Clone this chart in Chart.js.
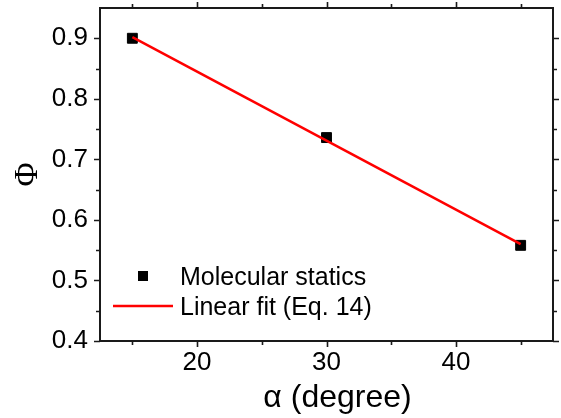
<!DOCTYPE html>
<html>
<head>
<meta charset="utf-8">
<script src="https://cdn.jsdelivr.net/npm/chart.js@4.4.1/dist/chart.umd.min.js"></script>
<style>
  html, body { margin: 0; padding: 0; background: #fff; }
  #wrap { width: 561px; height: 418px; }
</style>
</head>
<body>
<div id="wrap"><canvas id="c" width="561" height="418"></canvas></div>
<script>
// ---- data ----
const alphaMS = [15, 30, 45];                 // α (degree), molecular statics
const phiMS = [0.900, 0.736, 0.558];          // Φ, molecular statics
const alphaFit = [15, 45];                    // linear fit end points
const phiFit = [0.902, 0.560];                // Φ from linear fit (Eq. 14)
const xMajorTicks = [20, 30, 40];
const xMinorTicks = [15, 25, 35, 45];
const yMajorTicks = [0.4, 0.5, 0.6, 0.7, 0.8, 0.9];
const yMinorTicks = [0.45, 0.55, 0.65, 0.75, 0.85];
const seriesLabels = ['Molecular statics', 'Linear fit (Eq. 14)'];
const xTitle = 'α (degree)';
const yTitle = 'Φ';

const AXIS_COLOR = '#1a1a1a';

const framePlugin = {
  id: 'frame',
  afterDatasetsDraw(chart) {
    const { ctx, chartArea: a, scales: { x, y } } = chart;
    ctx.save();
    ctx.strokeStyle = AXIS_COLOR;
    ctx.lineWidth = 2;
    ctx.strokeRect(a.left, a.top, a.right - a.left, a.bottom - a.top);
    ctx.lineWidth = 1.6;
    const tick = (vals, len, isX) => {
      vals.forEach(v => {
        ctx.beginPath();
        if (isX) {
          const px = Math.round(x.getPixelForValue(v)) + 0.5;
          ctx.moveTo(px, a.bottom); ctx.lineTo(px, a.bottom + len);
          ctx.moveTo(px, a.top); ctx.lineTo(px, a.top - len);
        } else {
          const py = Math.round(y.getPixelForValue(v)) + 0.5;
          ctx.moveTo(a.left, py); ctx.lineTo(a.left - len, py);
          ctx.moveTo(a.right, py); ctx.lineTo(a.right + len, py);
        }
        ctx.stroke();
      });
    };
    tick(xMajorTicks, 6, true);
    tick(xMinorTicks, 4, true);
    tick(yMajorTicks, 6, false);
    tick(yMinorTicks, 4, false);
    // x axis title, slightly right of centre as in the reference
    ctx.fillStyle = '#000';
    ctx.font = '32px "Liberation Sans", Arial, sans-serif';
    ctx.textAlign = 'center';
    ctx.textBaseline = 'alphabetic';
    ctx.fillText(xTitle, (a.left + a.right) / 2 + 11, 407);
    ctx.restore();
  }
};

const legendPlugin = {
  id: 'insideLegend',
  afterDraw(chart) {
    const { ctx } = chart;
    const ds = chart.data.datasets;
    ctx.save();
    ctx.font = '25px "Liberation Sans", Arial, sans-serif';
    ctx.textBaseline = 'alphabetic';
    ctx.fillStyle = ds[0].backgroundColor;
    ctx.fillRect(138, 271, 10, 10);
    ctx.fillStyle = '#000';
    ctx.fillText(ds[0].label, 180, 285);
    ctx.strokeStyle = ds[1].borderColor;
    ctx.lineWidth = ds[1].borderWidth;
    ctx.beginPath();
    ctx.moveTo(113, 306); ctx.lineTo(173, 306);
    ctx.stroke();
    ctx.fillText(ds[1].label, 180, 315);
    ctx.restore();
  }
};

new Chart(document.getElementById('c'), {
  type: 'scatter',
  data: {
    datasets: [
      {
        label: seriesLabels[0],
        data: alphaMS.map((a, i) => ({ x: a, y: phiMS[i] })),
        pointStyle: 'rect',
        pointRadius: 7,
        backgroundColor: '#000',
        borderColor: '#000',
        borderWidth: 1,
        showLine: false,
        order: 1
      },
      {
        label: seriesLabels[1],
        data: alphaFit.map((a, i) => ({ x: a, y: phiFit[i] })),
        showLine: true,
        borderColor: '#ff0000',
        backgroundColor: '#ff0000',
        borderWidth: 2.5,
        pointRadius: 0,
        order: 0
      }
    ]
  },
  options: {
    responsive: false,
    animation: false,
    devicePixelRatio: 1,
    layout: { padding: { top: 8, right: 8, left: 0, bottom: 0 } },
    plugins: { legend: { display: false }, tooltip: { enabled: false } },
    scales: {
      x: {
        type: 'linear',
        min: 12.5,
        max: 47.5,
        afterFit(s) { s.height = 77; s.paddingLeft = 0; s.paddingRight = 0; },
        afterBuildTicks(s) { s.ticks = xMajorTicks.map(v => ({ value: v })); },
        grid: { display: false, drawTicks: false },
        border: { display: false },
        ticks: {
          color: '#000',
          padding: 6,
          maxRotation: 0,
          font: { family: '"Liberation Sans", Arial, sans-serif', size: 26 },
          callback: v => String(v)
        },
        title: { display: false }
      },
      y: {
        type: 'linear',
        min: 0.4,
        max: 0.95,
        afterFit(s) { s.width = 100; s.paddingTop = 0; s.paddingBottom = 0; },
        afterBuildTicks(s) { s.ticks = yMajorTicks.map(v => ({ value: v })); },
        grid: { display: false, drawTicks: false },
        border: { display: false },
        ticks: {
          color: '#000',
          padding: 12,
          font: { family: '"Liberation Sans", Arial, sans-serif', size: 26 },
          callback: v => Number(v).toFixed(1)
        },
        title: {
          display: true,
          text: yTitle,
          color: '#000',
          padding: { top: 9, bottom: 0 },
          font: { family: '"Liberation Serif", "Times New Roman", serif', size: 33 }
        }
      }
    }
  },
  plugins: [framePlugin, legendPlugin]
});
</script>
</body>
</html>
